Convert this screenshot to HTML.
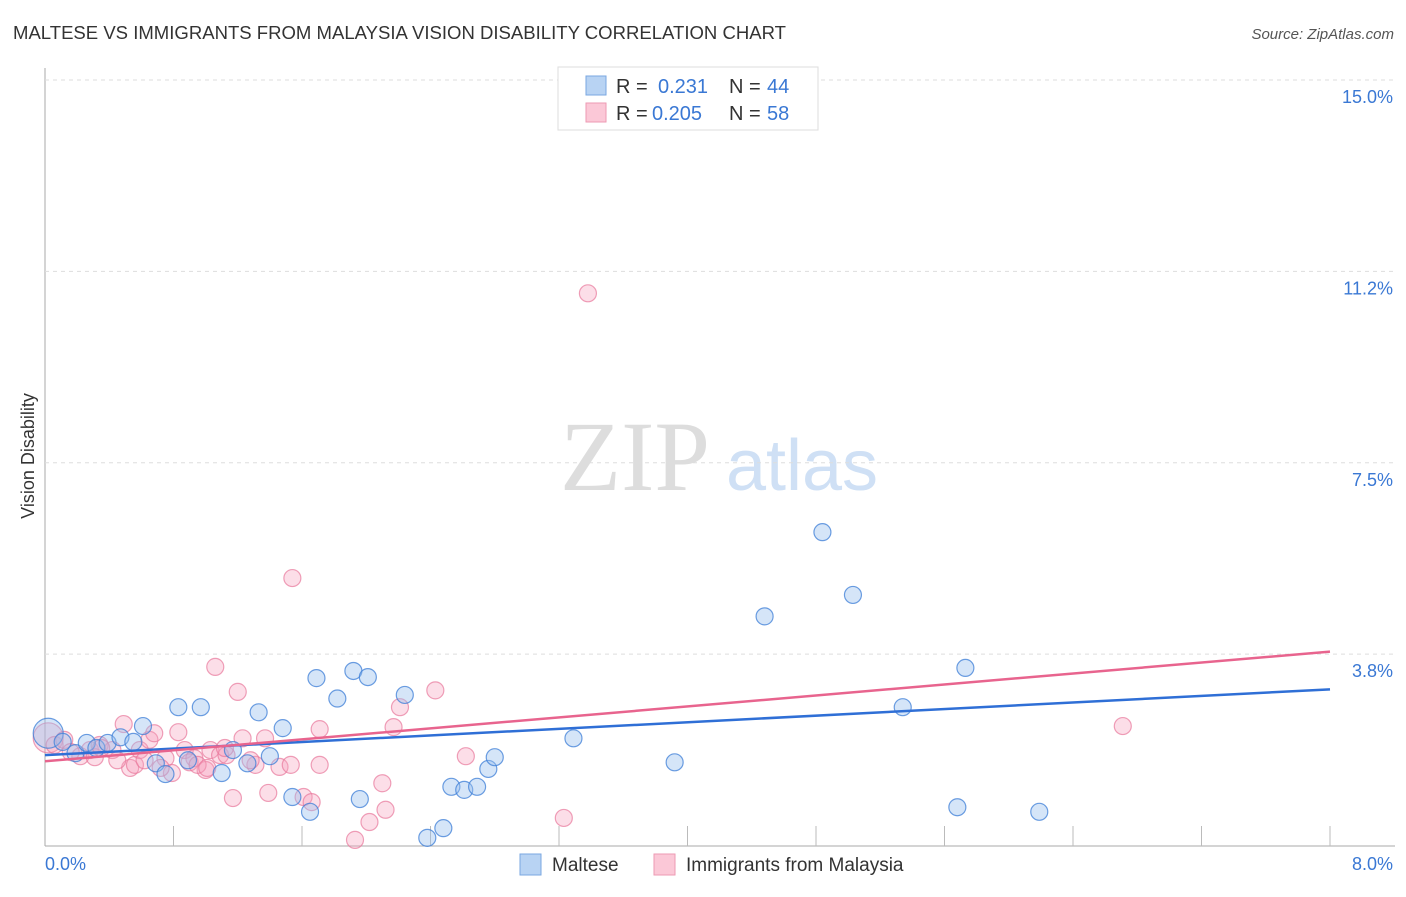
<!DOCTYPE html>
<html><head><meta charset="utf-8"><style>
body{margin:0;background:#fff;font-family:"Liberation Sans",sans-serif;}
svg text{font-family:"Liberation Sans",sans-serif;}
svg text.serif{font-family:"Liberation Serif",serif;}
</style></head><body>
<svg id="chart" width="1406" height="892" xmlns="http://www.w3.org/2000/svg">
<text x="13" y="39" font-size="18" fill="#333" textLength="773" lengthAdjust="spacingAndGlyphs">MALTESE VS IMMIGRANTS FROM MALAYSIA VISION DISABILITY CORRELATION CHART</text>
<text x="1394" y="39" font-size="15" fill="#555" font-style="italic" text-anchor="end">Source: ZipAtlas.com</text>
<text x="34" y="456" font-size="18" fill="#333" transform="rotate(-90 34 456)" text-anchor="middle">Vision Disability</text>
<g><text class="serif" x="635" y="490" font-size="100" fill="#ddd" text-anchor="middle">ZIP</text><text x="802" y="490" font-size="72" fill="#cfe0f5" text-anchor="middle">atlas</text></g>
<g id="grid"></g><g id="marks"></g>
<g>
<rect x="558" y="67" width="260" height="63" fill="#fff" stroke="#ddd"/>
<rect x="586" y="76" width="20" height="19" fill="#b8d3f3" stroke="#7aa7e0"/>
<rect x="586" y="103" width="20" height="19" fill="#fbc8d7" stroke="#ee9ab3"/>
<text x="616" y="93" font-size="20" fill="#333">R = </text><text x="658" y="93" font-size="20" fill="#3a78d4">0.231</text>
<text x="729" y="93" font-size="20" fill="#333">N = </text><text x="767" y="93" font-size="20" fill="#3a78d4">44</text>
<text x="616" y="120" font-size="20" fill="#333">R = </text><text x="652" y="120" font-size="20" fill="#3a78d4">0.205</text>
<text x="729" y="120" font-size="20" fill="#333">N = </text><text x="767" y="120" font-size="20" fill="#3a78d4">58</text>
</g>
<g>
<rect x="520" y="854" width="21" height="21" fill="#b8d3f3" stroke="#7aa7e0"/>
<text x="552" y="871" font-size="19" fill="#333">Maltese</text>
<rect x="654" y="854" width="21" height="21" fill="#fbc8d7" stroke="#ee9ab3"/>
<text x="686" y="871" font-size="19" fill="#333">Immigrants from Malaysia</text>
</g>
</svg>
<script>
const yTicks=[3.75,7.5,11.25,15];
const yTickLabels=["3.8%","7.5%","11.2%","15.0%"];
const xTickCount=10;
const maltX=[0.02,0.11,0.19,0.26,0.32,0.39,0.47,0.55,0.61,0.69,0.75,0.83,0.89,0.97,1.10,1.17,1.26,1.33,1.40,1.48,1.54,1.65,1.69,1.82,1.92,1.96,2.01,2.24,2.38,2.48,2.53,2.61,2.69,2.76,2.80,3.29,3.92,4.48,4.84,5.03,5.34,5.68,5.73,6.19];
const maltY=[2.20,2.03,1.81,2.01,1.91,2.01,2.12,2.03,2.34,1.61,1.40,2.71,1.67,2.71,1.42,1.87,1.61,2.61,1.75,2.30,0.95,0.66,3.28,2.88,3.42,0.91,3.30,2.95,0.15,0.34,1.15,1.09,1.15,1.50,1.73,2.10,1.63,4.49,6.14,4.91,2.71,0.75,3.48,0.66];
const malaX=[0.02,0.06,0.12,0.22,0.28,0.34,0.42,0.49,0.53,0.56,0.59,0.65,0.68,0.75,0.79,0.83,0.87,0.93,1.00,1.03,1.06,1.09,1.13,1.17,1.20,1.23,1.31,1.37,1.39,1.46,1.53,1.54,1.61,1.66,1.71,1.71,1.93,2.02,2.10,2.12,2.17,2.21,2.43,2.62,3.23,3.38,6.71,0.16,0.31,0.45,0.62,0.72,0.90,0.95,1.01,1.12,1.28,0.35];
const malaY=[2.11,1.97,2.07,1.75,1.87,1.97,1.87,2.38,1.52,1.58,1.87,2.07,2.20,1.71,1.42,2.22,1.87,1.71,1.48,1.87,3.50,1.77,1.77,0.93,3.01,2.10,1.58,2.10,1.03,1.54,1.58,5.24,0.95,0.85,2.28,1.58,0.11,0.46,1.22,0.70,2.32,2.71,3.04,1.75,0.54,10.82,2.34,1.83,1.73,1.67,1.67,1.52,1.63,1.58,1.52,1.91,1.67,1.91];
const maltTrend=[1.77,3.06];
const malaTrend=[1.65,3.80];
const xMax=8, yMax=15;
const X0=45,X1=1330,Y0=845.5,Y15=80;
const sx=v=>X0+(v/xMax)*(X1-X0);
const sy=v=>Y0-(v/yMax)*(Y0-Y15);
const NS="http://www.w3.org/2000/svg";
const grid=document.getElementById('grid'),marks=document.getElementById('marks');
function mk(tag,attrs,parent){const e=document.createElementNS(NS,tag);for(const k in attrs)e.setAttribute(k,attrs[k]);parent.appendChild(e);return e;}
const ax=mk('line',{x1:X0,y1:68,x2:X0,y2:846,stroke:'#aaa'},grid);


const bx=mk('line',{x1:X0,y1:846,x2:1395,y2:846,stroke:'#aaa'},grid);


yTicks.forEach((t,i)=>{
 const g=mk('line',{x1:X0,y1:sy(t),x2:1395,y2:sy(t),stroke:'#ddd','stroke-dasharray':'4,4'},grid);
 
 
 const l=mk('text',{x:1393,y:sy(t)+23,'font-size':18,fill:'#3a78d4','text-anchor':'end'},grid);
 l.textContent=yTickLabels[i];
 
 
});
for(let i=1;i<=xTickCount;i++){
 const t=mk('line',{x1:sx(i*xMax/xTickCount),y1:826,x2:sx(i*xMax/xTickCount),y2:846,stroke:'#bbb'},grid);
 
 
}
const xl0=mk('text',{x:45,y:870,'font-size':18,fill:'#3a78d4'},grid);xl0.textContent='0.0%';


const xl1=mk('text',{x:1393,y:870,'font-size':18,fill:'#3a78d4','text-anchor':'end'},grid);xl1.textContent='8.0%';


function pts(xs,ys,fill,stroke,name){
 xs.forEach((x,i)=>{
  const c=mk('circle',{cx:sx(x),cy:sy(ys[i]),r:i===0?15:8.5,fill:fill,stroke:stroke,'stroke-width':1.2},marks);
  
  
 });
}
pts(malaX,malaY,'rgba(247,160,188,0.35)','rgba(232,120,155,0.7)','malaysia-point');
pts(maltX,maltY,'rgba(150,190,238,0.4)','rgba(60,125,215,0.75)','maltese-point');
const tl1=mk('line',{x1:sx(0),y1:sy(maltTrend[0]),x2:sx(xMax),y2:sy(maltTrend[1]),stroke:'#2f6fd6','stroke-width':2.5},marks);


const tl2=mk('line',{x1:sx(0),y1:sy(malaTrend[0]),x2:sx(xMax),y2:sy(malaTrend[1]),stroke:'#e8648e','stroke-width':2.5},marks);


</script>
</body></html>
